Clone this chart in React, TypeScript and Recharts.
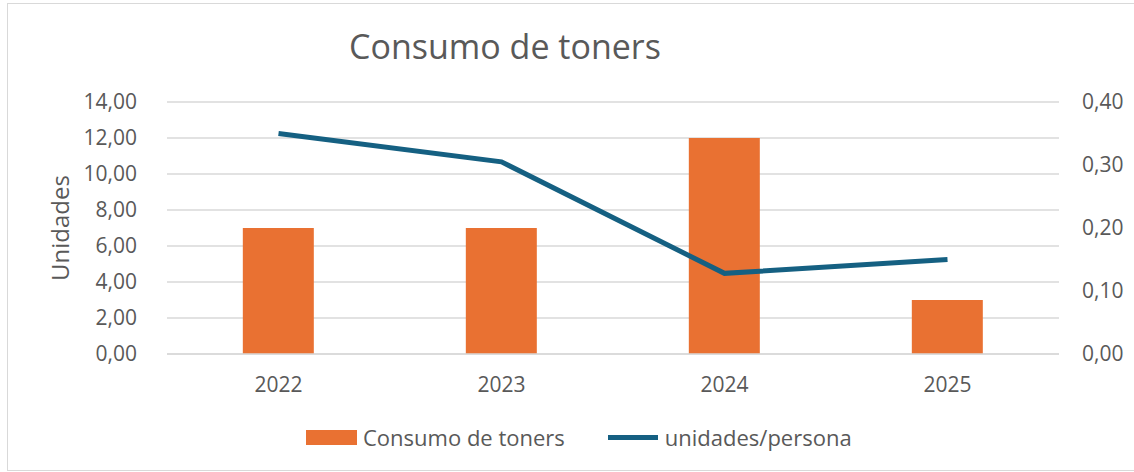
import {
  Bar,
  CartesianGrid,
  ComposedChart,
  Label,
  Legend,
  Line,
  XAxis,
  YAxis,
} from 'recharts';

const years = ['2022', '2023', '2024', '2025'];
const toners = [7, 7, 12, 3];
const perPerson = [0.35, 0.305, 0.128, 0.15];
const leftTicks = [0, 2, 4, 6, 8, 10, 12, 14];
const rightTicks = [0, 0.1, 0.2, 0.3, 0.4];

const data = years.map((year, i) => ({
  year,
  toners: toners[i],
  perPerson: perPerson[i],
}));

const FONT = '"Open Sans", "Liberation Sans", sans-serif';
const TEXT = '#595959';
const ORANGE = '#E97132';
const BLUE = '#156082';
const GRID = '#d9d9d9';

const comma = (v: number) => v.toFixed(2).replace('.', ',');

function LegendBox() {
  return (
    <div style={{ display: 'flex', alignItems: 'center', height: 30, paddingLeft: 306, fontFamily: FONT, fontSize: 22, color: TEXT }}>
      <span style={{ display: 'inline-block', width: 51, height: 15, background: ORANGE, marginRight: 6 }} />
      <span>Consumo de toners</span>
      <span style={{ display: 'inline-block', width: 50, height: 5, background: BLUE, marginLeft: 43, marginRight: 7 }} />
      <span>unidades/persona</span>
    </div>
  );
}

function AxisTitle({ viewBox }: { viewBox?: { x: number; y: number; height: number } }) {
  if (!viewBox) return null;
  const cy = viewBox.y + viewBox.height / 2;
  return (
    <text
      x={59}
      y={cy}
      transform={`rotate(-90 59 ${cy})`}
      textAnchor="middle"
      dominantBaseline="central"
      fill={TEXT}
      fontFamily={FONT}
      fontSize={24}
    >
      Unidades
    </text>
  );
}

export default function App() {
  return (
    <div style={{ position: 'absolute', left: 0, top: 0, width: 1134, height: 472, background: '#fff', overflow: 'hidden' }}>
      <div style={{ position: 'absolute', left: 7, top: 3, width: 1140, height: 466, border: `1px solid ${GRID}` }} />
      <div
        style={{
          position: 'absolute',
          left: 305,
          top: 29,
          width: 400,
          textAlign: 'center',
          fontFamily: FONT,
          fontSize: 34,
          lineHeight: '34px',
          color: TEXT,
        }}
      >
        Consumo de toners
      </div>
      <div style={{ position: 'absolute', left: 0, top: 0 }}>
        <ComposedChart
          width={1134}
          height={472}
          data={data}
          margin={{ top: 102, right: 0, bottom: 78, left: 0 }}
          barCategoryGap="34%"
        >
          <CartesianGrid yAxisId="left" vertical={false} stroke={GRID} strokeWidth={1.5} />
          <XAxis
            dataKey="year"
            axisLine={{ stroke: GRID, strokeWidth: 1.5 }}
            tickLine={false}
            tickMargin={17}
            height={40}
            tick={{ fill: TEXT, fontSize: 21, fontFamily: FONT }}
          />
          <YAxis
            yAxisId="left"
            domain={[0, 14]}
            ticks={leftTicks}
            tickFormatter={comma}
            axisLine={false}
            tickLine={false}
            width={167}
            tickMargin={24}
            tick={{ fill: TEXT, fontSize: 21, fontFamily: FONT }}
          >
            <Label content={<AxisTitle />} />
          </YAxis>
          <YAxis
            yAxisId="right"
            orientation="right"
            domain={[0, 0.4]}
            ticks={rightTicks}
            tickFormatter={comma}
            axisLine={false}
            tickLine={false}
            width={75}
            tickMargin={17}
            tick={{ fill: TEXT, fontSize: 21, fontFamily: FONT, textAnchor: 'start' }}
          />
          <Legend
            layout="horizontal"
            verticalAlign="middle"
            align="center"
            content={<LegendBox />}
            wrapperStyle={{ top: 422, left: 0, width: 1134 }}
          />
          <Bar yAxisId="left" dataKey="toners" name="Consumo de toners" fill={ORANGE} isAnimationActive={false} />
          <Line
            yAxisId="right"
            type="linear"
            dataKey="perPerson"
            name="unidades/persona"
            stroke={BLUE}
            strokeWidth={5}
            dot={false}
            activeDot={false}
            isAnimationActive={false}
          />
        </ComposedChart>
      </div>
    </div>
  );
}
